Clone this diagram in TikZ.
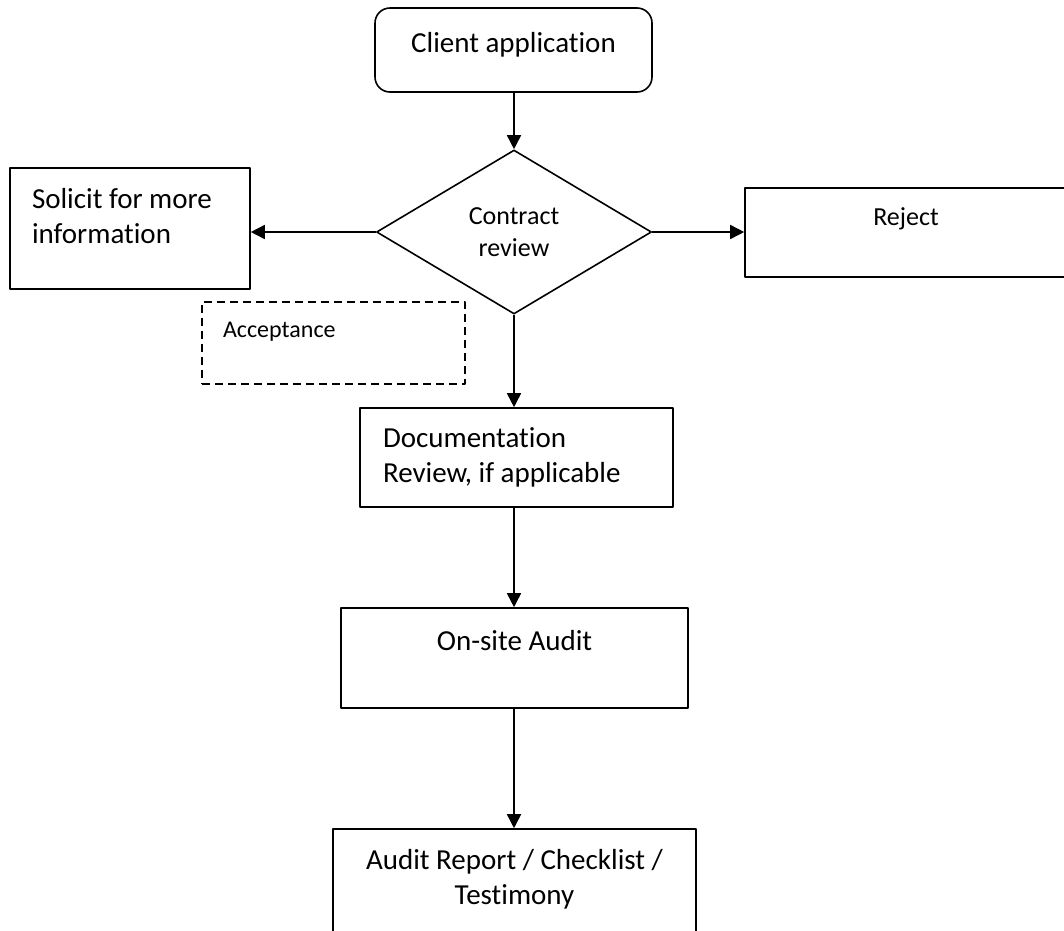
\documentclass[tikz,border=0pt]{standalone}
\usepackage{fontspec}
\setmainfont{Carlito}[Ligatures=NoCommon]
\usetikzlibrary{shapes.geometric,arrows.meta}
\begin{document}
\begin{tikzpicture}[x=1pt, y=-1pt, line width=1.6pt, line join=round, >={Triangle[length=14pt,width=14pt]},
  box/.style={draw, rectangle, inner sep=0pt},
  txt/.style={font=\fontsize{29}{35}\selectfont, inner sep=0pt, align=left},
  small/.style={font=\fontsize{26}{32}\selectfont, inner sep=0pt, align=center}]
\useasboundingbox (0,0) rectangle (1064,930);
\clip (0,0) rectangle (1064,930);
% boxes
\node[box, rounded corners=15pt, minimum width=277pt, minimum height=84pt,
  label={[txt, anchor=north, yshift=-24pt]north:Client application}] (client) at (513.5,50) {};
\node[draw, diamond, minimum width=275pt, minimum height=164pt, small] (review) at (514,232) {Contract\\review};
\node[box, minimum width=240pt, minimum height=121pt,
  label={[txt, anchor=north west, xshift=22pt, yshift=-20pt]north west:{Solicit for more\\information}}] (solicit) at (130,228.5) {};
\node[box, minimum width=322pt, minimum height=89pt,
  label={[small, anchor=north, yshift=-20pt]north:Reject}] (reject) at (906,232.5) {};
\node[box, dashed, dash pattern=on 8pt off 5pt, minimum width=263pt, minimum height=82pt,
  label={[font=\fontsize{24}{29}\selectfont, inner sep=0pt, anchor=north west, xshift=21pt, yshift=-20pt]north west:Acceptance}] (accept) at (333.5,343) {};
\node[box, minimum width=313pt, minimum height=99pt,
  label={[txt, anchor=north west, xshift=23pt, yshift=-20pt]north west:{Documentation\\Review, if applicable}}] (doc) at (516.5,457.5) {};
\node[box, minimum width=347pt, minimum height=100pt,
  label={[txt, anchor=north, yshift=-22pt]north:On-site Audit}] (onsite) at (514.5,658) {};
\node[box, minimum width=363pt, minimum height=111pt,
  label={[txt, align=center, anchor=north, yshift=-20pt]north:{Audit Report / Checklist /\\Testimony}}] (report) at (514.5,884.5) {};
% arrows
\draw[->] (client.south -| review.north) -- (review.north);
\draw[->] (review.west) -- (review.west -| solicit.east);
\draw[->] (review.east) -- (review.east -| reject.west);
\draw[->] (review.south) -- (review.south |- doc.north);
\draw[->] (review.south |- doc.south) -- (review.south |- onsite.north);
\draw[->] (review.south |- onsite.south) -- (review.south |- report.north);
\end{tikzpicture}
\end{document}
